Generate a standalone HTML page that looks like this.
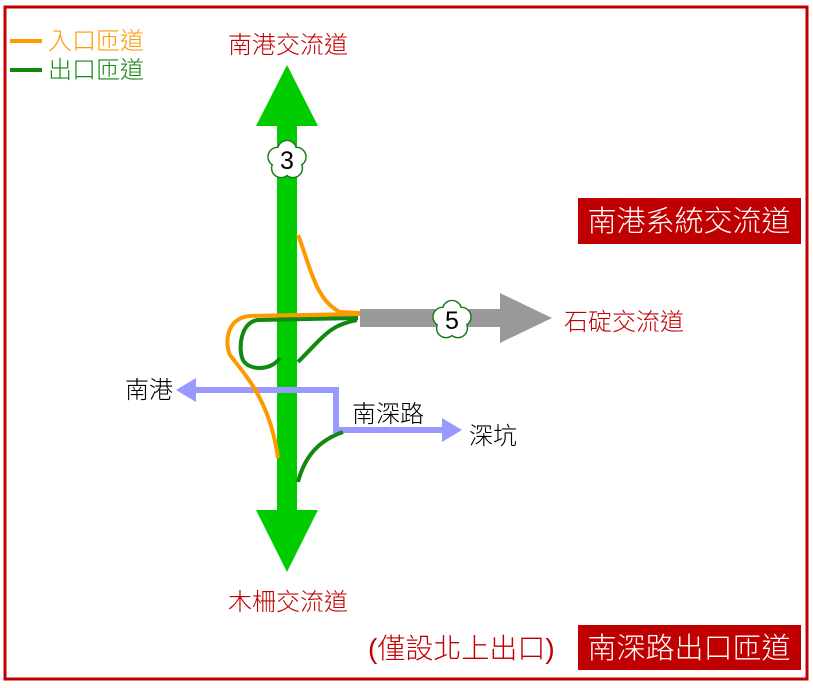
<!DOCTYPE html>
<html><head><meta charset="utf-8"><style>
body{margin:0;width:813px;height:683px;background:#fff;overflow:hidden;font-family:"Liberation Sans","Noto Sans CJK TC",sans-serif}
</style></head><body>
<svg width="813" height="683" xmlns="http://www.w3.org/2000/svg" font-family="Liberation Sans, Noto Sans CJK TC, sans-serif">
<defs>
<g id="fl">
<circle cx="0" cy="-10" r="9.5" fill="#fff" stroke="#1a7a1a" stroke-width="1.5"/>
<circle cx="9.5" cy="-3.1" r="9.5" fill="#fff" stroke="#1a7a1a" stroke-width="1.5"/>
<circle cx="5.9" cy="8.1" r="9.5" fill="#fff" stroke="#1a7a1a" stroke-width="1.5"/>
<circle cx="-5.9" cy="8.1" r="9.5" fill="#fff" stroke="#1a7a1a" stroke-width="1.5"/>
<circle cx="-9.5" cy="-3.1" r="9.5" fill="#fff" stroke="#1a7a1a" stroke-width="1.5"/>
<circle cx="0" cy="-10" r="8.7" fill="#fff"/>
<circle cx="9.5" cy="-3.1" r="8.7" fill="#fff"/>
<circle cx="5.9" cy="8.1" r="8.7" fill="#fff"/>
<circle cx="-5.9" cy="8.1" r="8.7" fill="#fff"/>
<circle cx="-9.5" cy="-3.1" r="8.7" fill="#fff"/>
<circle cx="0" cy="0" r="11" fill="#fff"/>
</g>
</defs>
<rect x="5" y="7" width="802" height="672" fill="none" stroke="#c00000" stroke-width="3"/>
<!-- legend -->
<line x1="10" y1="41" x2="42" y2="41" stroke="#ff9900" stroke-width="4"/>
<line x1="10" y1="70" x2="42" y2="70" stroke="#118811" stroke-width="4"/>
<text x="48" y="49" font-size="24" font-weight="300" fill="#ff9900">入口匝道</text>
<text x="48" y="78" font-size="24" font-weight="300" fill="#118811">出口匝道</text>
<!-- main green -->
<rect x="277" y="118" width="20" height="400" fill="#00cc00"/>
<polygon points="287,65 318,126 256,126" fill="#00cc00"/>
<polygon points="287,572 318,510 256,510" fill="#00cc00"/>
<!-- gray -->
<rect x="360" y="309" width="145" height="18" fill="#999"/>
<polygon points="552,318 500,293 500,343" fill="#999"/>
<!-- blue -->
<polyline points="188,390 336,390 336,430 450,430" fill="none" stroke="#9999ff" stroke-width="6"/>
<polygon points="176,390 196,378 196,402" fill="#9999ff"/>
<polygon points="462,430 442,418 442,442" fill="#9999ff"/>
<!-- orange -->
<path d="M298,235 C310,265 315,300 340,312 L360,313" fill="none" stroke="#ff9900" stroke-width="4"/>
<path d="M360,314 L250,316 C225,318 225,345 230,355 C245,375 270,400 278,458" fill="none" stroke="#ff9900" stroke-width="4"/>
<!-- dark green -->
<path d="M358,318 L258,320 C240,322 238,350 243,360 C248,370 270,372 280,358" fill="none" stroke="#118811" stroke-width="4"/>
<path d="M357,320 C330,325 325,335 298,362" fill="none" stroke="#118811" stroke-width="4"/>
<path d="M343,432 C320,440 305,455 298,482" fill="none" stroke="#118811" stroke-width="4"/>
<!-- shields -->
<use href="#fl" x="287" y="160"/>
<text x="287" y="169" font-size="25" text-anchor="middle" fill="#000">3</text>
<use href="#fl" x="452" y="320"/>
<text x="452" y="329" font-size="25" text-anchor="middle" fill="#000">5</text>
<!-- labels -->
<text x="288" y="53" font-size="24" font-weight="300" text-anchor="middle" fill="#c00000">南港交流道</text>
<text x="288" y="610" font-size="24" font-weight="300" text-anchor="middle" fill="#c00000">木柵交流道</text>
<text x="564" y="330" font-size="24" font-weight="300" fill="#c00000">石碇交流道</text>
<text x="125" y="398" font-size="24" font-weight="300" fill="#000">南港</text>
<text x="352" y="422" font-size="24" font-weight="300" fill="#000">南深路</text>
<text x="469" y="444" font-size="24" font-weight="300" fill="#000">深坑</text>
<rect x="578" y="198" width="223" height="46" fill="#c00000"/>
<text x="689" y="231" font-size="29" font-weight="300" text-anchor="middle" fill="#fff">南港系統交流道</text>
<rect x="578" y="625" width="223" height="45" fill="#c00000"/>
<text x="689" y="658" font-size="29" font-weight="300" text-anchor="middle" fill="#fff">南深路出口匝道</text>
<text x="368" y="658" font-size="28" font-weight="300" fill="#c00000">(僅設北上出口)</text>
</svg>
</body></html>
